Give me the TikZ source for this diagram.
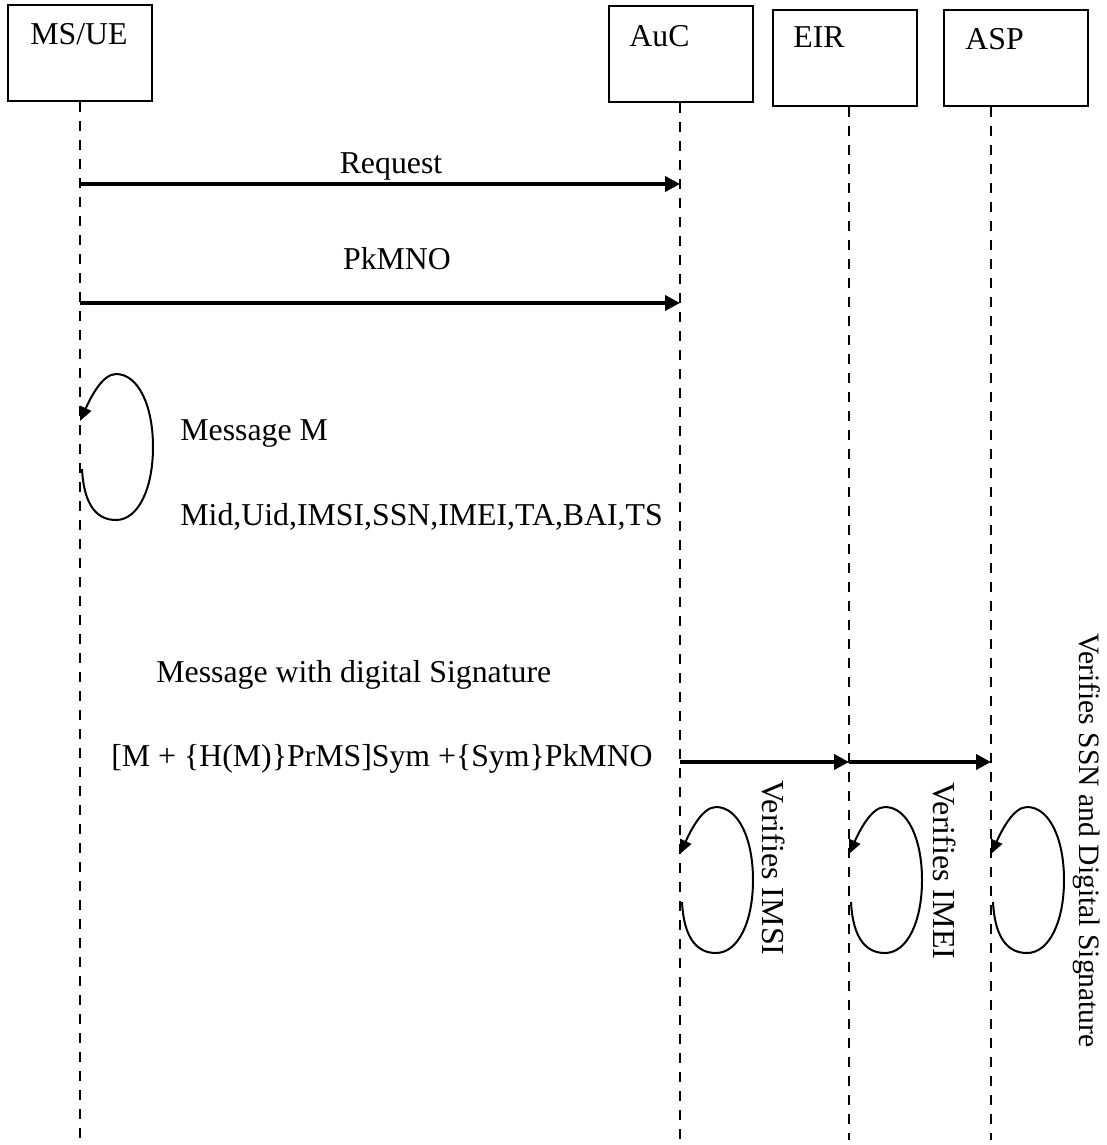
\documentclass[tikz,border=0pt]{standalone}
\usepackage{fontspec}
\setmainfont{Liberation Serif}
\usetikzlibrary{arrows.meta,positioning}

\tikzset{selfloop/.pic={
  \draw[selfarrow] (2,22) .. controls (4,60) and (18,73) .. (36,73)
    .. controls (58,73) and (73,42) .. (73,0)
    .. controls (73,-42) and (58,-73) .. (36,-73)
    .. controls (22,-73) and (10,-48) .. (0,-26);
}}

\begin{document}
\begin{tikzpicture}[x=0.5pt, y=-0.5pt]
\tikzstyle{actor} = [rectangle, draw, line width=1pt, minimum width=72pt, minimum height=48pt, inner sep=0pt]
\tikzstyle{txt} = [inner sep=0pt, font=\fontsize{15.9}{19}\selectfont]
\tikzstyle{vtxt} = [inner sep=0pt, font=\fontsize{16}{19}\selectfont, rotate=-90, anchor=base west]
\tikzstyle{lifeline} = [line width=1pt, dash pattern=on 5pt off 4.5pt]
\tikzstyle{msg} = [line width=2pt, -{Triangle[length=7.5pt,width=7.5pt]}]
\tikzstyle{selfarrow} = [line width=1pt, -{Triangle[length=7pt,width=6pt]}]

\useasboundingbox (0,0) rectangle (1107,1145);

\node (MS) [actor] at (80,53) {};
\node (AuC) [actor] at (681,54) {};
\node (EIR) [actor] at (845,58) {};
\node (ASP) [actor] at (1016,58) {};

\node (MSlabel) [txt, anchor=base] at (79,45) {MS/UE};
\node (AuClabel) [txt, anchor=base west] at (629,47) {AuC};
\node (EIRlabel) [txt, anchor=base west] at (793,48) {EIR};
\node (ASPlabel) [txt, anchor=base west] at (965,50) {ASP};

\coordinate (MS-end) at (80,1140);
\coordinate (AuC-end) at (680,1145);
\coordinate (EIR-end) at (849,1140);
\coordinate (ASP-end) at (991,1140);

\draw[lifeline] (MS.south) -- (MS-end);
\draw[lifeline] (AuC.south -| AuC-end) -- (AuC-end);
\draw[lifeline] (EIR.south -| EIR-end) -- (EIR-end);
\draw[lifeline] (ASP.south -| ASP-end) -- (ASP-end);

\coordinate (req) at (0,184);
\coordinate (pk) at (0,303);
\coordinate (sig) at (0,762);

\draw[msg] (MS-end |- req) -- node[txt, above=1pt, xshift=5.5pt] {Request} (AuC-end |- req);
\draw[msg] (MS-end |- pk) -- node[txt, above=15.5pt, xshift=8.5pt] {PkMNO} (AuC-end |- pk);

\pic at (80,447) {selfloop};
\node (MsgM) [txt, anchor=base west] at (180,440) {Message M};
\node (MsgFields) [txt, anchor=base west] at (180,525) {Mid,Uid,IMSI,SSN,IMEI,TA,BAI,TS};

\node (SigTitle) [txt, anchor=base west] at (156,682) {Message with digital Signature};
\node (SigMsg) [txt, anchor=base west] at (111,766) {[M + \{H(M)\}PrMS]Sym +\{Sym\}PkMNO};

\draw[msg] (AuC-end |- sig) -- (EIR-end |- sig);
\draw[msg] (EIR-end |- sig) -- (ASP-end |- sig);

\foreach \n in {AuC,EIR,ASP}
  \pic at (\n-end |- 0,880) {selfloop};

\node (VerIMSI) [vtxt] at (762,780) {Verifies IMSI};
\node (VerIMEI) [vtxt] at (933,782) {Verifies IMEI};
\node (VerSig) [vtxt, font=\fontsize{14.8}{18}\selectfont] at (1079,633) {Verifies SSN and Digital Signature};
\end{tikzpicture}
\end{document}
